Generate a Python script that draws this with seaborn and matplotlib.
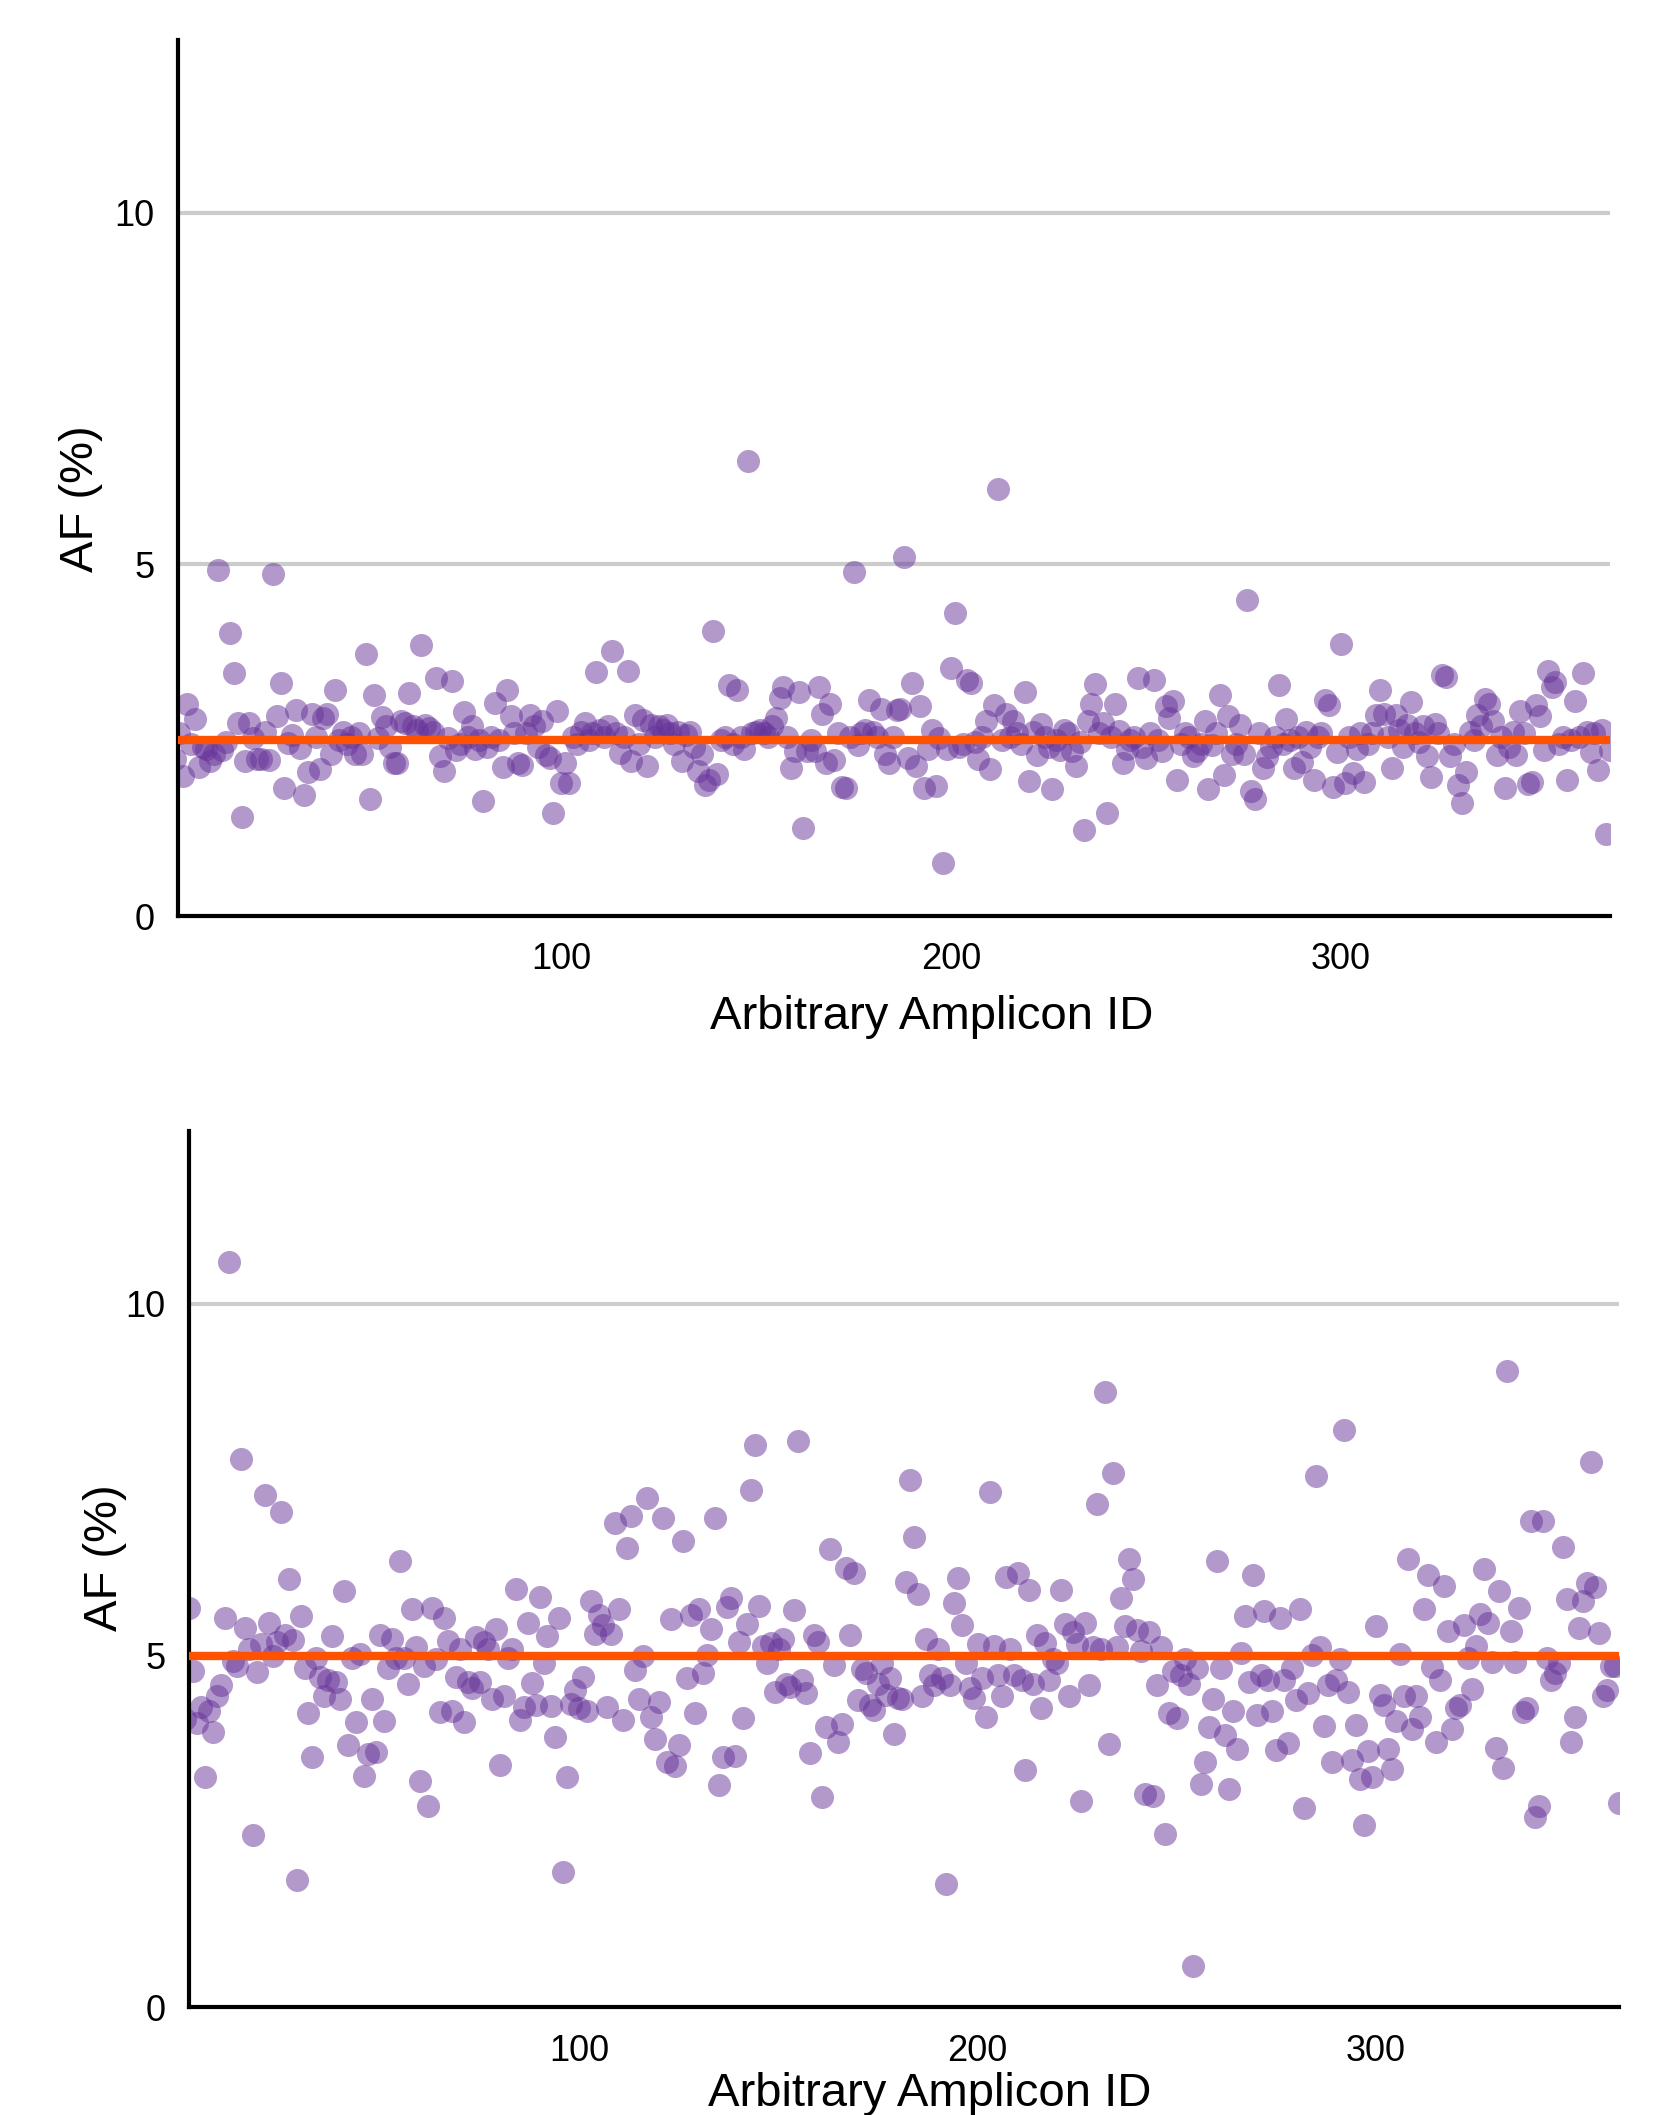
import matplotlib
matplotlib.use("Agg")
import matplotlib.pyplot as plt
import numpy as np
import pandas as pd
import seaborn as sns

# === values ===
top_af = [
    2.24, 2.60, 1.99, 3.02, 2.45, 2.80, 2.12, 2.40, 2.38, 2.20,
    2.30, 4.92, 2.36, 2.48, 4.03, 3.45, 2.74, 1.41, 2.20, 2.75,
    2.53, 2.23, 2.23, 2.62, 2.22, 4.87, 2.85, 3.31, 1.82, 2.46,
    2.58, 2.93, 2.39, 1.72, 2.05, 2.87, 2.55, 2.09, 2.81, 2.88,
    2.31, 3.21, 2.50, 2.62, 2.45, 2.55, 2.31, 2.60, 2.31, 3.73,
    1.67, 3.15, 2.53, 2.83, 2.70, 2.40, 2.18, 2.18, 2.78, 2.74,
    3.17, 2.70, 2.65, 3.85, 2.72, 2.68, 2.62, 3.38, 2.27, 2.06,
    2.53, 3.34, 2.36, 2.45, 2.90, 2.55, 2.70, 2.38, 2.50, 1.63,
    2.40, 2.55, 3.03, 2.50, 2.12, 3.21, 2.85, 2.60, 2.17, 2.15,
    2.60, 2.86, 2.70, 2.40, 2.77, 2.29, 2.25, 1.46, 2.91, 1.89,
    2.17, 1.89, 2.55, 2.45, 2.62, 2.75, 2.50, 2.60, 3.47, 2.65,
    2.55, 2.70, 3.77, 2.60, 2.32, 2.55, 3.48, 2.20, 2.86, 2.45,
    2.79, 2.13, 2.72, 2.55, 2.70, 2.65, 2.72, 2.60, 2.45, 2.62,
    2.20, 2.58, 2.62, 2.40, 2.06, 2.31, 1.86, 1.93, 4.06, 2.02,
    2.50, 2.55, 3.28, 2.45, 3.21, 2.55, 2.38, 6.47, 2.60, 2.62,
    2.65, 2.60, 2.55, 2.70, 2.82, 3.10, 3.26, 2.55, 2.10, 2.34,
    3.18, 1.25, 2.34, 2.50, 2.35, 3.26, 2.88, 2.17, 3.02, 2.22,
    2.60, 1.84, 1.82, 2.55, 4.89, 2.43, 2.60, 2.65, 3.07, 2.62,
    2.55, 2.95, 2.30, 2.17, 2.55, 2.93, 2.95, 5.10, 2.25, 3.32,
    2.13, 2.98, 1.82, 2.38, 2.64, 1.85, 2.53, 0.75, 2.38, 3.53,
    4.31, 2.40, 2.45, 3.36, 3.31, 2.48, 2.24, 2.55, 2.77, 2.09,
    3.00, 6.07, 2.50, 2.88, 2.55, 2.77, 2.60, 2.45, 3.18, 1.92,
    2.62, 2.29, 2.73, 2.55, 2.40, 1.81, 2.50, 2.36, 2.65, 2.60,
    2.35, 2.13, 2.48, 1.22, 2.77, 3.02, 3.30, 2.60, 2.75, 1.46,
    2.55, 3.02, 2.63, 2.17, 2.38, 2.50, 2.55, 3.39, 2.40, 2.25,
    2.60, 3.36, 2.50, 2.35, 2.99, 2.81, 3.06, 1.93, 2.45, 2.60,
    2.55, 2.27, 2.35, 2.45, 2.77, 1.80, 2.43, 2.60, 3.15, 2.00,
    2.84, 2.31, 2.45, 2.72, 2.31, 4.49, 1.78, 1.67, 2.60, 2.10,
    2.26, 2.40, 2.55, 3.29, 2.45, 2.80, 2.50, 2.10, 2.55, 2.19,
    2.62, 2.40, 1.93, 2.55, 2.60, 3.07, 3.00, 1.84, 2.33, 3.87,
    1.89, 2.55, 2.04, 2.38, 2.60, 1.91, 2.45, 2.60, 2.86, 3.22,
    2.88, 2.55, 2.10, 2.86, 2.65, 2.40, 2.72, 3.05, 2.60, 2.48,
    2.70, 2.27, 1.98, 2.73, 2.60, 3.43, 3.40, 2.27, 2.45, 1.86,
    1.61, 2.05, 2.62, 2.50, 2.86, 2.70, 3.09, 3.02, 2.77, 2.29,
    2.55, 1.82, 2.40, 2.62, 2.29, 2.91, 2.60, 1.88, 1.90, 3.00,
    2.85, 2.36, 3.49, 3.26, 3.33, 2.45, 2.55, 1.93, 2.50, 3.06,
    2.55, 3.45, 2.62, 2.33, 2.60, 2.07, 2.65, 1.16, 2.36,
]

bottom_af = [
    4.10, 5.68, 4.78, 4.04, 4.27, 3.27, 4.21, 3.92, 4.43, 4.58,
    5.53, 10.59, 4.92, 4.85, 7.80, 5.39, 5.09, 2.45, 4.77, 5.16,
    7.29, 5.47, 4.99, 5.20, 7.04, 5.30, 6.09, 5.22, 1.81, 5.56,
    4.82, 4.18, 3.56, 4.96, 4.70, 4.43, 4.65, 5.28, 4.63, 4.39,
    5.92, 3.73, 4.97, 4.06, 5.03, 3.29, 3.60, 4.39, 3.63, 5.30,
    4.07, 4.82, 5.23, 4.97, 6.34, 4.97, 4.60, 5.66, 5.13, 3.22,
    4.85, 2.87, 5.68, 4.95, 4.20, 5.54, 5.21, 4.21, 4.70, 5.09,
    4.06, 4.63, 4.54, 5.27, 4.63, 5.20, 5.09, 4.38, 5.38, 3.44,
    4.43, 4.96, 5.09, 5.95, 4.09, 4.27, 5.47, 4.61, 4.30, 5.83,
    4.89, 5.28, 4.28, 3.85, 5.53, 1.92, 3.28, 4.31, 4.51, 4.25,
    4.70, 4.21, 5.78, 5.31, 5.58, 5.44, 4.27, 5.31, 6.88, 5.67,
    4.09, 6.53, 6.99, 4.80, 4.38, 5.00, 7.24, 4.13, 3.82, 4.34,
    6.96, 3.49, 5.52, 3.43, 3.73, 6.63, 4.68, 5.58, 4.18, 5.66,
    4.75, 5.01, 5.38, 6.96, 3.16, 3.56, 5.69, 5.82, 3.57, 5.20,
    4.11, 5.45, 7.35, 8.00, 5.71, 5.14, 4.90, 5.18, 4.49, 5.10,
    5.23, 4.60, 4.55, 5.65, 8.05, 4.65, 4.47, 3.61, 5.30, 5.20,
    2.99, 3.99, 6.52, 4.87, 3.78, 4.03, 6.25, 5.30, 6.18, 4.37,
    4.81, 4.75, 4.30, 4.23, 4.60, 4.90, 4.44, 4.68, 3.89, 4.40,
    4.39, 6.04, 7.49, 6.68, 5.87, 4.43, 5.23, 4.73, 4.58, 5.09,
    4.68, 1.75, 4.58, 5.75, 6.11, 5.43, 4.90, 4.54, 4.40, 5.16,
    4.68, 4.13, 7.33, 5.14, 4.73, 4.43, 6.12, 5.09, 4.73, 6.18,
    4.66, 3.38, 5.94, 4.60, 5.29, 4.25, 5.18, 4.65, 4.95, 4.90,
    5.94, 5.45, 4.43, 5.34, 5.16, 2.94, 5.47, 4.58, 5.13, 7.15,
    5.10, 8.74, 3.74, 7.60, 5.13, 5.82, 5.42, 6.38, 6.09, 5.37,
    5.06, 3.03, 5.33, 3.01, 4.58, 5.13, 2.46, 4.18, 4.78, 4.11,
    4.73, 4.95, 4.60, 0.59, 4.82, 3.18, 3.49, 3.99, 4.39, 6.34,
    4.83, 3.87, 3.11, 4.21, 3.67, 5.04, 5.56, 4.63, 6.15, 4.16,
    4.73, 5.63, 4.66, 4.21, 3.66, 5.54, 4.66, 3.76, 4.82, 4.37,
    5.67, 2.84, 4.47, 5.01, 7.56, 5.13, 4.00, 4.58, 3.49, 4.66,
    4.95, 8.21, 4.49, 3.52, 4.01, 3.25, 2.59, 3.65, 3.27, 5.42,
    4.44, 4.30, 3.68, 3.39, 4.07, 5.03, 4.43, 6.37, 3.96, 4.43,
    4.13, 5.66, 6.15, 4.84, 3.77, 4.65, 5.99, 5.35, 3.96, 4.25,
    4.30, 5.44, 4.97, 4.53, 5.14, 5.59, 6.23, 5.47, 4.91, 3.69,
    5.92, 3.40, 9.05, 5.35, 4.91, 5.68, 4.20, 4.25, 6.91, 2.71,
    2.87, 6.92, 4.97, 4.66, 4.76, 4.90, 6.54, 5.80, 3.78, 4.13,
    5.39, 5.78, 6.03, 7.75, 5.98, 5.32, 4.42, 4.51, 4.85, 4.85,
    2.91,
]

TOP_LINE = 2.5
BOTTOM_LINE = 5.0
Y_TICKS = [0, 5, 10]
X_TICKS = [100, 200, 300]
X_LABEL = "Arbitrary Amplicon ID"
Y_LABEL = "AF (%)"

# === style ===
POINT_COLOR = "#663399"
LINE_COLOR = "#FF5200"
GRID_COLOR = "#CCCCCC"

sns.set_style("white")
plt.rcParams['font.family'] = ['Liberation Sans', 'DejaVu Sans']
plt.rcParams['text.color'] = 'black'
plt.rcParams['axes.labelcolor'] = 'black'


def draw_panel(ax, values, line_y, xlim, xlab_x, xlab_y, ylab_y, ylab_x):
    df = pd.DataFrame({"amplicon": np.arange(1, len(values) + 1), "af": values})
    for gy in [5, 10]:
        ax.axhline(gy, color=GRID_COLOR, linewidth=3, zorder=0)
    sns.scatterplot(data=df, x="amplicon", y="af", ax=ax, s=275, color=POINT_COLOR,
                    alpha=0.5, linewidth=0, zorder=2, legend=False)
    ax.axhline(line_y, color=LINE_COLOR, linewidth=6, zorder=3)
    ax.set_xlim(*xlim)
    ax.set_ylim(0, 12.46)
    ax.set_xticks(X_TICKS)
    ax.set_yticks(Y_TICKS)
    ax.tick_params(axis='both', direction='out', length=5, width=3, labelsize=26,
                   color='black', labelcolor='black')
    ax.tick_params(axis='y', pad=12)
    ax.tick_params(axis='x', pad=14)
    for side in ["top", "right"]:
        ax.spines[side].set_visible(False)
    for side in ["left", "bottom"]:
        ax.spines[side].set_linewidth(3)
        ax.spines[side].set_color('black')
    ax.set_xlabel(X_LABEL, fontsize=34, va='top', color='black')
    ax.xaxis.set_label_coords(xlab_x, xlab_y)
    ax.set_ylabel(Y_LABEL, fontsize=34, va='center', color='black')
    ax.yaxis.set_label_coords(ylab_x, ylab_y)
    ax.grid(False)


fig = plt.figure(figsize=(16.69, 21.15), dpi=100)
ax_top = fig.add_axes([0.10665, 0.56690, 0.85800, 0.41418])
ax_bot = fig.add_axes([0.11324, 0.05083, 0.85680, 0.41456])

draw_panel(ax_top, top_af, TOP_LINE, (1.7, 369), 0.526, -0.090, 0.476, -0.068)
draw_panel(ax_bot, bottom_af, BOTTOM_LINE, (2.0, 361), 0.518, -0.073, 0.513, -0.0587)

fig.savefig("out.png", dpi=100)
